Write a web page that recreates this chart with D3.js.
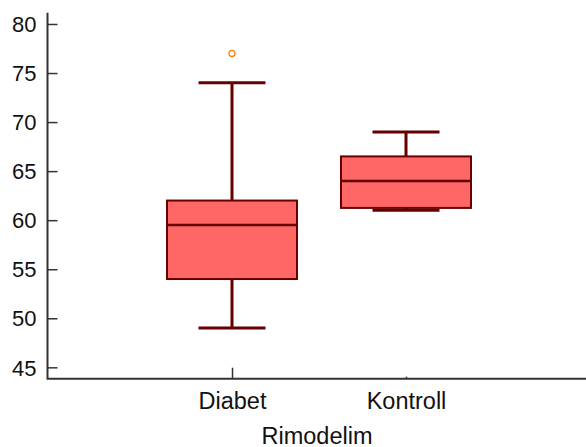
<!DOCTYPE html>
<html>
<head>
<meta charset="utf-8">
<script src="https://cdn.jsdelivr.net/npm/d3@7/dist/d3.min.js"></script>
<style>
  html, body { margin: 0; padding: 0; background: #fff; }
  svg { display: block; font-family: "Liberation Sans", Arial, sans-serif; }
</style>
</head>
<body>
<svg id="chart" width="586" height="447"></svg>
<script>
// Box-plot summary per group
const groups   = ["Diabet", "Kontroll"];
const whiskLo  = [49, 61];
const q1       = [54, 61.25];
const median   = [59.5, 64];
const q3       = [62, 66.5];
const whiskHi  = [74, 69];
const outliers = [[77], []];
const yTicks   = [45, 50, 55, 60, 65, 70, 75, 80];
const xTitle   = "Rimodelim";

const svg = d3.select("#chart");
const plotL = 47.5, plotR = 586, plotT = 12.7, plotB = 378.7;

const y = d3.scaleLinear().domain([43.84, 81.15]).range([plotB, plotT]);
const x = d3.scalePoint().domain(groups).range([232, 406]);

const boxW = 130, capW = 67;
const edge = "#660000", fill = "#ff6666";
const fontFam = "Liberation Sans, Arial, sans-serif";

// boxes
const g = svg.append("g");
groups.forEach((name, i) => {
  const cx = x(name);
  // whisker stems
  g.append("line").attr("x1", cx).attr("x2", cx)
    .attr("y1", y(q3[i])).attr("y2", y(whiskHi[i]))
    .attr("stroke", edge).attr("stroke-width", 3);
  g.append("line").attr("x1", cx).attr("x2", cx)
    .attr("y1", y(q1[i])).attr("y2", y(whiskLo[i]))
    .attr("stroke", edge).attr("stroke-width", 3);
  // caps
  [whiskHi[i], whiskLo[i]].forEach(v => {
    g.append("line").attr("x1", cx - capW / 2).attr("x2", cx + capW / 2)
      .attr("y1", y(v)).attr("y2", y(v))
      .attr("stroke", edge).attr("stroke-width", 3);
  });
  // box
  g.append("rect").attr("x", cx - boxW / 2).attr("width", boxW)
    .attr("y", y(q3[i])).attr("height", y(q1[i]) - y(q3[i]))
    .attr("fill", fill).attr("stroke", edge).attr("stroke-width", 2);
  // median
  g.append("line").attr("x1", cx - boxW / 2).attr("x2", cx + boxW / 2)
    .attr("y1", y(median[i])).attr("y2", y(median[i]))
    .attr("stroke", edge).attr("stroke-width", 2.5);
  // outliers
  outliers[i].forEach(v => {
    g.append("circle").attr("cx", cx).attr("cy", y(v)).attr("r", 3)
      .attr("fill", "none").attr("stroke", "#ff7f0e").attr("stroke-width", 1.3);
  });
});

// y axis: ticks point inward
const yAxis = svg.append("g").attr("transform", `translate(${plotL},0)`)
  .call(d3.axisRight(y).tickValues(yTicks).tickSize(10).tickFormat(d3.format("d")));
yAxis.select(".domain").remove();
yAxis.selectAll(".tick line").attr("stroke", "#333").attr("stroke-width", 1.5);
yAxis.selectAll(".tick text").attr("x", -11).attr("text-anchor", "end")
  .attr("font-size", 22).attr("fill", "#111").attr("dy", "0.35em")
  .style("font-family", fontFam);

// x axis
const xAxis = svg.append("g").attr("transform", `translate(0,${plotB})`)
  .call(d3.axisTop(x).tickSize(10));
xAxis.select(".domain").remove();
xAxis.selectAll(".tick line").attr("stroke", "#333").attr("stroke-width", 1.5)
  .attr("y2", (d, i) => i === 0 ? -11 : -2);
xAxis.selectAll(".tick text").attr("y", 30.5).attr("dy", 0)
  .attr("font-size", 23.5).attr("fill", "#111")
  .style("font-family", fontFam);

// axis lines
svg.append("path")
  .attr("d", `M${plotL},${plotT}V${plotB}H${plotR}`)
  .attr("fill", "none").attr("stroke", "#333").attr("stroke-width", 2);

svg.append("text").attr("x", 317).attr("y", 444).attr("text-anchor", "middle")
  .attr("font-size", 23.5).attr("fill", "#111").style("font-family", fontFam)
  .text(xTitle);
</script>
</body>
</html>
